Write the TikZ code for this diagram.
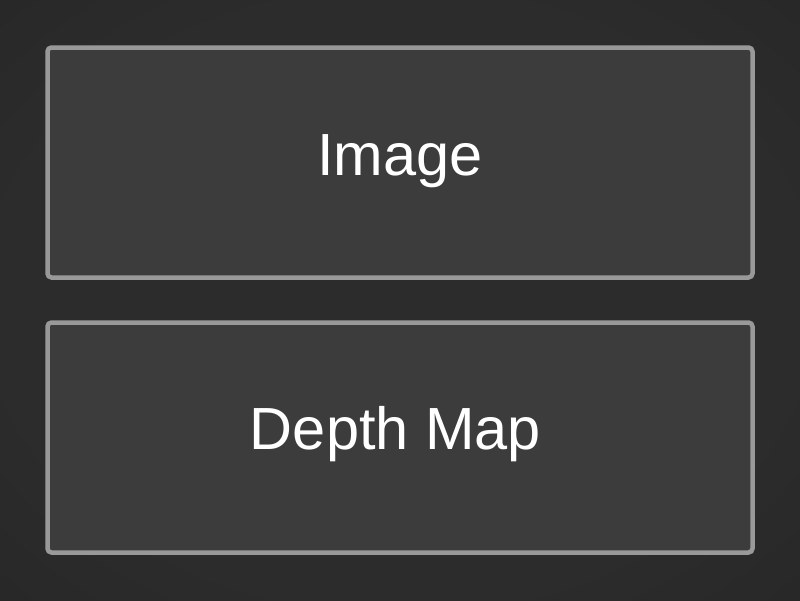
\documentclass[tikz,border=0pt]{standalone}
\usepackage{fontspec}
\setmainfont{Liberation Sans}
\definecolor{bgc}{HTML}{2C2C2C}
\definecolor{bge}{HTML}{222222}
\definecolor{boxfill}{HTML}{3C3C3C}
\definecolor{boxline}{HTML}{999999}
\pgfdeclareradialshading{vign}{\pgfpoint{0bp}{0bp}}{color(0bp)=(bgc); color(25bp)=(bgc); color(50bp)=(bge); color(100bp)=(bge)}
\tikzset{
  panel/.style={draw=boxline, fill=boxfill, line width=4.5pt, rounded corners=4pt},
  lbl/.style={text=white, font=\fontsize{59.5pt}{60pt}\selectfont, anchor=base, inner sep=0pt}
}
\begin{document}
\begin{tikzpicture}[x=1pt,y=-1pt]
\shade[shading=vign] (0,0) rectangle (800,600);
\useasboundingbox (0,0) rectangle (800,600);
\draw[panel] (47.5,47.5) rectangle (752.5,277.5);
\draw[panel] (47.5,322.5) rectangle (752.5,552.5);
\node[lbl] (img) at (400,175) {Image};
\node[lbl] (dep) at (395.5,449) {Depth Map};
\end{tikzpicture}
\end{document}
